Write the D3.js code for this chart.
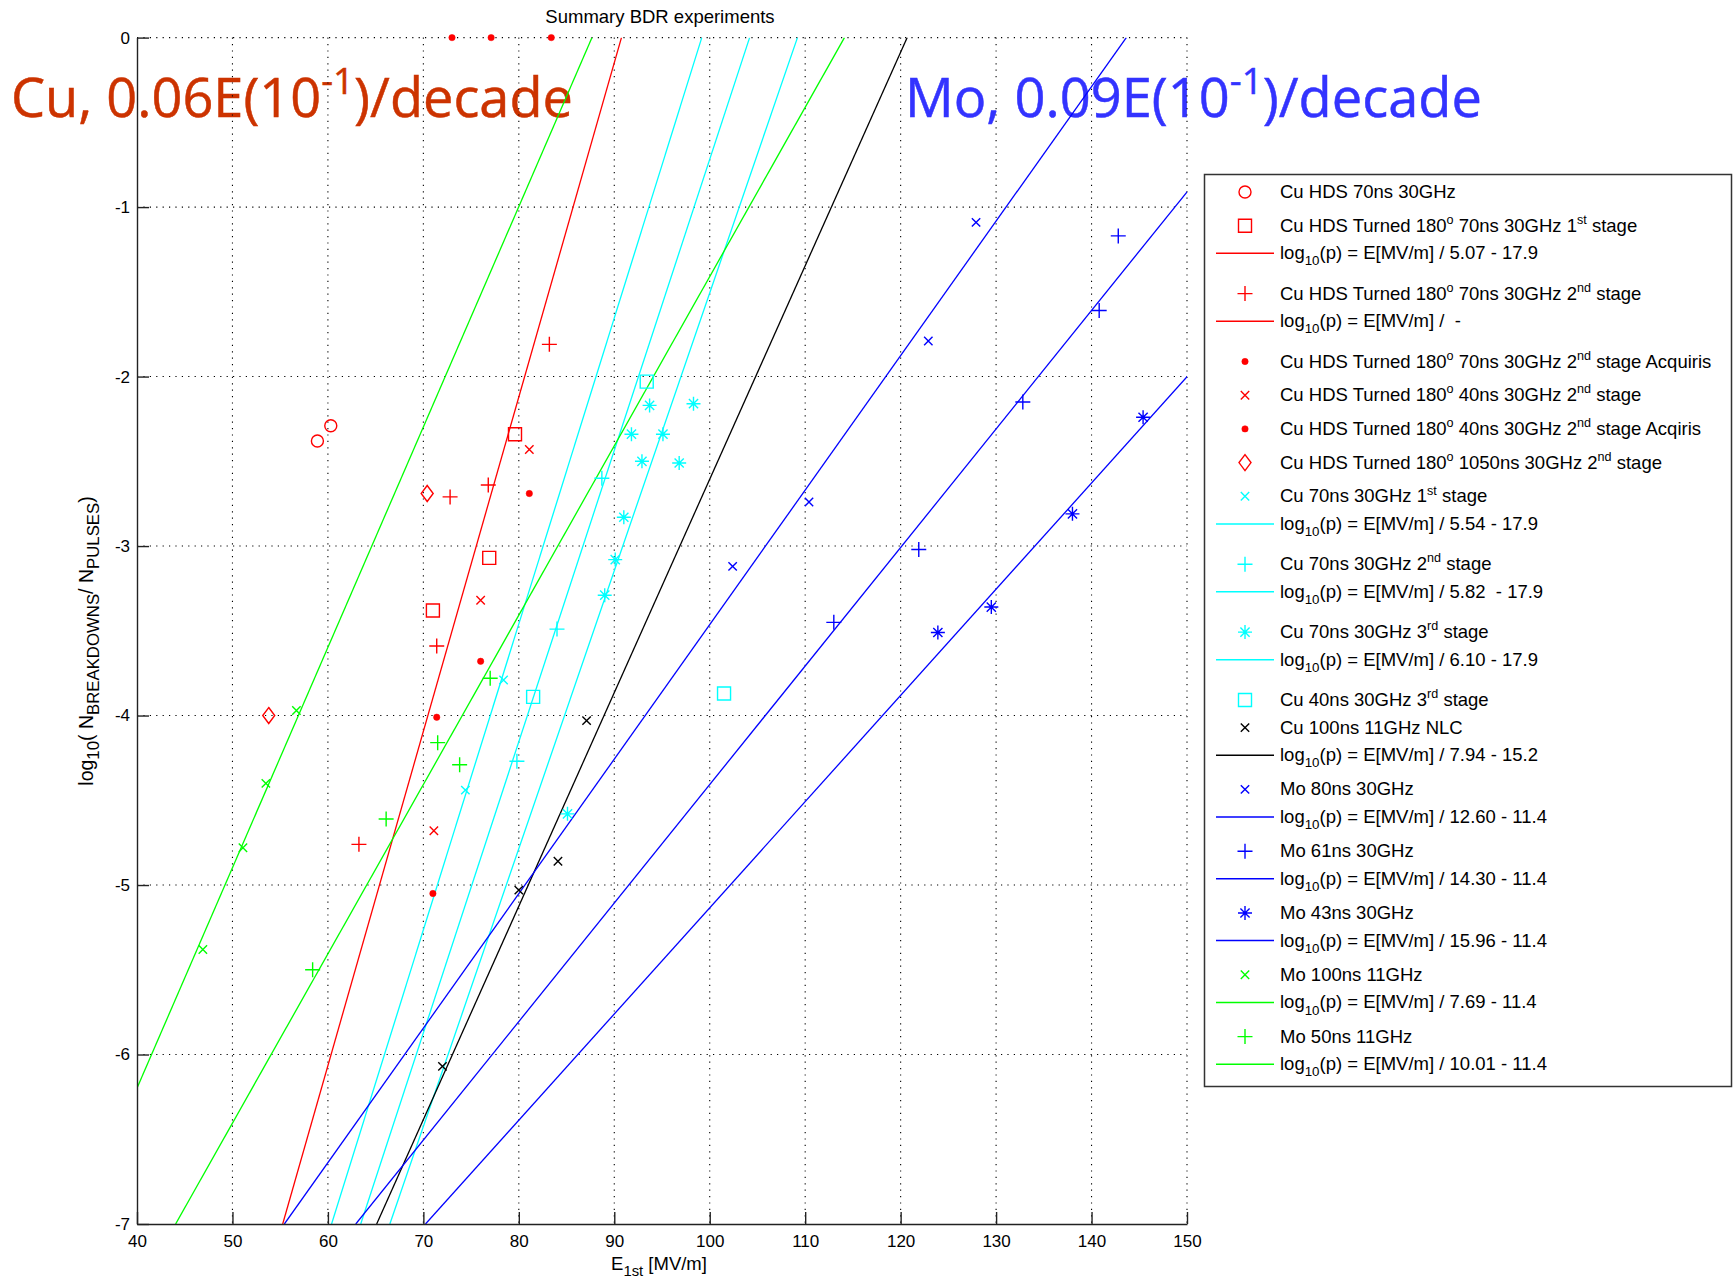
<!DOCTYPE html>
<meta charset="utf-8">

<!-- Load d3.js -->
<script src="https://d3js.org/d3.v7.min.js"></script>
<html>
<head>
  <title>Summary BDR experiments</title>
  <style>
    body { margin: 0; background: #fff; }
    svg text { font-family: "Liberation Sans", Arial, Helvetica, sans-serif; fill: #000; }
  </style>
</head>
<body>
  <div id="my_dataviz"></div>

<script>

// ---- data: [E_1st in MV/m, log10(N_BD/N_pulses)] ----
var cuHds70        = [[58.9,-2.38],[60.3,-2.29]];
var cuTurned70st1  = [[79.6,-2.34],[76.9,-3.07],[71.0,-3.38]];
var cuTurned70st2  = [[83.2,-1.81],[76.8,-2.64],[72.8,-2.71],[71.4,-3.59],[63.25,-4.76]];
var cuTurned70acq  = [[73.0,0],[77.1,0],[83.4,0],[81.1,-2.69]];
var cuTurned40st2  = [[81.1,-2.43],[76.0,-3.32],[71.1,-4.68]];
var cuTurned40acq  = [[76.0,-3.68],[71.4,-4.01],[71.0,-5.05]];
var cuTurned1050   = [[70.4,-2.69],[53.8,-4.0]];
var cu70st1        = [[78.4,-3.79],[74.4,-4.44]];
var cu70st2        = [[88.7,-2.60],[84.0,-3.49],[79.8,-4.27]];
var cu70st3        = [[93.7,-2.17],[98.3,-2.16],[91.8,-2.34],[95.1,-2.34],[92.9,-2.50],[96.8,-2.51],
                      [91.0,-2.83],[90.1,-3.08],[89.0,-3.29],[85.1,-4.58]];
var cu40st3        = [[93.4,-2.03],[81.5,-3.89],[101.5,-3.87]];
var cuNlc          = [[87.1,-4.03],[84.1,-4.86],[80.0,-5.03],[72.0,-6.07]];
var mo80           = [[127.9,-1.09],[122.9,-1.79],[110.4,-2.74],[102.4,-3.12]];
var mo61           = [[142.8,-1.17],[140.8,-1.61],[132.8,-2.15],[121.9,-3.02],[113.0,-3.45]];
var mo43           = [[145.4,-2.24],[138.0,-2.81],[129.5,-3.36],[123.9,-3.51]];
var mo100          = [[56.7,-3.97],[53.5,-4.40],[51.1,-4.78],[46.9,-5.38]];
var mo50           = [[77.0,-3.78],[71.5,-4.16],[73.8,-4.29],[66.1,-4.61],[58.4,-5.50]];

var seriesPoints = [cuHds70, cuTurned70st1, cuTurned70st2, cuTurned70acq, cuTurned40st2,
  cuTurned40acq, cuTurned1050, cu70st1, cu70st2, cu70st3, cu40st3, cuNlc,
  mo80, mo61, mo43, mo100, mo50];

var seriesLabels = [
  "Cu HDS 70ns 30GHz",
  "Cu HDS Turned 180^{o} 70ns 30GHz 1^{st} stage",
  "Cu HDS Turned 180^{o} 70ns 30GHz 2^{nd} stage",
  "Cu HDS Turned 180^{o} 70ns 30GHz 2^{nd} stage Acquiris",
  "Cu HDS Turned 180^{o} 40ns 30GHz 2^{nd} stage",
  "Cu HDS Turned 180^{o} 40ns 30GHz 2^{nd} stage Acqiris",
  "Cu HDS Turned 180^{o} 1050ns 30GHz 2^{nd} stage",
  "Cu 70ns 30GHz 1^{st} stage",
  "Cu 70ns 30GHz 2^{nd} stage",
  "Cu 70ns 30GHz 3^{rd} stage",
  "Cu 40ns 30GHz 3^{rd} stage",
  "Cu 100ns 11GHz NLC",
  "Mo 80ns 30GHz",
  "Mo 61ns 30GHz",
  "Mo 43ns 30GHz",
  "Mo 100ns 11GHz",
  "Mo 50ns 11GHz"
];

// fits: log10(p) = E / divisor - offset  (null = empty fit in the legend)
var fitSeries   = [1, 2, 7, 8, 9, 11, 12, 13, 14, 15, 16];
var fitDivisors = [5.07, null, 5.54, 5.82, 6.10, 7.94, 12.60, 14.30, 15.96, 7.69, 10.01];
var fitOffsets  = [17.9, null, 17.9, 17.9, 17.9, 15.2, 11.4, 11.4, 11.4, 11.4, 11.4];
var fitLabels = [
  "log_{10}(p) = E[MV/m] / 5.07 - 17.9",
  "log_{10}(p) = E[MV/m] /  -",
  "log_{10}(p) = E[MV/m] / 5.54 - 17.9",
  "log_{10}(p) = E[MV/m] / 5.82  - 17.9",
  "log_{10}(p) = E[MV/m] / 6.10 - 17.9",
  "log_{10}(p) = E[MV/m] / 7.94 - 15.2",
  "log_{10}(p) = E[MV/m] / 12.60 - 11.4",
  "log_{10}(p) = E[MV/m] / 14.30 - 11.4",
  "log_{10}(p) = E[MV/m] / 15.96 - 11.4",
  "log_{10}(p) = E[MV/m] / 7.69 - 11.4",
  "log_{10}(p) = E[MV/m] / 10.01 - 11.4"
];

var xTicks = [40,50,60,70,80,90,100,110,120,130,140,150];
var yTicks = [0,-1,-2,-3,-4,-5,-6,-7];

var titleText = "Summary BDR experiments";
var cuNote = "Cu, 0.06E(10^{-1})/decade";
var moNote = "Mo, 0.09E(10^{-1})/decade";

// ---- styles ----
var RED = "#ff0000", CYAN = "#00ffff", BLUE = "#0000ff", GREEN = "#00ff00", BLACK = "#000000";
var seriesColor = [RED,RED,RED,RED,RED,RED,RED,CYAN,CYAN,CYAN,CYAN,BLACK,BLUE,BLUE,BLUE,GREEN,GREEN];
var seriesSym   = ["o","s","+",".","x",".","d","x","+","*","s","x","x","+","*","x","+"];

// set the dimensions and margins of the graph
var W = 1734, H = 1280;
var margin = {top: 37.6, left: 137},
    width = 1050,
    height = 1186.4;

var svg0 = d3.select("#my_dataviz")
  .append("svg")
    .attr("width", W)
    .attr("height", H);

svg0.append("rect").attr("width", W).attr("height", H).attr("fill", "#fff");

// superscript / subscript text helper
function richText(sel, str, size, subScale) {
  var sc = subScale || 0.72;
  var parts = str.match(/\^\{[^}]*\}|_\{[^}]*\}|[^\^_]+/g);
  var cur = 0;
  parts.forEach(function(p) {
    var shift = 0, fs = size, t = p;
    if (p[0] === "^") { shift = -0.42 * size; fs = 0.68 * size; t = p.slice(2, -1); }
    else if (p[0] === "_") { shift = 0.33 * size; fs = sc * size; t = p.slice(2, -1); }
    sel.append("tspan")
      .attr("dy", shift - cur)
      .style("font-size", fs + "px")
      .text(t);
    cur = shift;
  });
  sel.attr("xml:space", "preserve").style("white-space", "pre");
  return sel;
}

// big annotations (behind the plot, like pasted in)
function note(str, color, x0, baseline, targetW) {
  var t = svg0.append("text")
    .attr("x", 0).attr("y", 0)
    .style("font-family", "'Comic Sans MS', 'Open Sans', sans-serif")
    .style("fill", color)
    .style("stroke", color)
    .style("stroke-width", 0.5);
  richText(t, str, 54);
  t.selectAll("tspan").style("fill", color);
  var bw = t.node().getBBox().width;
  t.attr("transform", "translate(" + x0 + "," + baseline + ") scale(" + (targetW / bw) + ",1)");
}
note(cuNote, "#cc3300", 11, 117, 562);
note(moNote, "#3333ff", 905, 117, 577);

var svg = svg0.append("g")
  .attr("transform", "translate(" + margin.left + "," + margin.top + ")");

var x = d3.scaleLinear().domain([40, 150]).range([0, width]);
var y = d3.scaleLinear().domain([-7, 0]).range([height, 0]);

svg.append("clipPath").attr("id", "plotclip")
  .append("rect").attr("width", width).attr("height", height);

// dotted grid
var grid = svg.append("g")
  .attr("stroke", "#000")
  .attr("stroke-width", 1.1)
  .attr("stroke-dasharray", "1.2,5.2");
grid.selectAll(".gx").data(xTicks.filter(function(d){ return d !== 40; }))
  .enter().append("line")
    .attr("x1", function(d){ return x(d); }).attr("x2", function(d){ return x(d); })
    .attr("y1", 0).attr("y2", height);
grid.selectAll(".gy").data(yTicks.filter(function(d){ return d !== -7; }))
  .enter().append("line")
    .attr("y1", function(d){ return y(d); }).attr("y2", function(d){ return y(d); })
    .attr("x1", 0).attr("x2", width);

// fit lines
var fits = fitDivisors.map(function(dv, i) {
  return {div: dv, off: fitOffsets[i], color: seriesColor[fitSeries[i]]};
}).filter(function(f){ return f.div !== null; });

svg.append("g").attr("clip-path", "url(#plotclip)")
  .selectAll("line").data(fits).enter().append("line")
    .attr("x1", function(f){ return x(f.div * (-7 + f.off)); })
    .attr("y1", y(-7))
    .attr("x2", function(f){ return x(f.div * (0 + f.off)); })
    .attr("y2", y(0))
    .attr("stroke", function(f){ return f.color; })
    .attr("stroke-width", 1.3);

// markers
function markerPath(sym) {
  switch (sym) {
    case "o": return "M-6,0a6,6 0 1,0 12,0a6,6 0 1,0 -12,0";
    case "s": return "M-6.5,-6.5H6.5V6.5H-6.5Z";
    case "d": return "M0,-8L6,0L0,8L-6,0Z";
    case "+": return "M-7.5,0H7.5M0,-7.5V7.5";
    case "x": return "M-4.2,-4.2L4.2,4.2M-4.2,4.2L4.2,-4.2";
    case "*": return "M-7,0H7M0,-7V7M-4.6,-4.6L4.6,4.6M-4.6,4.6L4.6,-4.6";
    case ".": return "M-3.2,0a3.2,3.2 0 1,0 6.4,0a3.2,3.2 0 1,0 -6.4,0";
  }
}
function drawMarker(g, sym, color) {
  g.append("path")
    .attr("d", markerPath(sym))
    .attr("fill", sym === "." ? color : "none")
    .attr("stroke", color)
    .attr("stroke-width", sym === "." ? 0.5 : 1.4);
}

seriesPoints.forEach(function(pts, i) {
  svg.append("g").selectAll("g").data(pts).enter().append("g")
    .attr("transform", function(d){ return "translate(" + x(d[0]) + "," + y(d[1]) + ")"; })
    .each(function() { drawMarker(d3.select(this), seriesSym[i], seriesColor[i]); });
});

// axes: ticks inside, left and bottom only
var yAxis = svg.append("g")
  .style("font-size", "17px")
  .call(d3.axisLeft(y).tickValues(yTicks).tickSize(-12).tickSizeOuter(0)
        .tickPadding(7).tickFormat(function(d){ return String(d); }));
var xAxis = svg.append("g")
  .attr("transform", "translate(0," + height + ")")
  .style("font-size", "17px")
  .call(d3.axisBottom(x).tickValues(xTicks).tickSize(-12).tickSizeOuter(0)
        .tickPadding(11).tickFormat(function(d){ return String(d); }));
[yAxis, xAxis].forEach(function(a) {
  a.attr("font-family", null);
  a.selectAll("path, line").attr("stroke", "#222").attr("stroke-width", 1.4);
  a.selectAll("text").attr("fill", "#000");
});

// title and axis labels
svg0.append("text")
  .attr("x", 660).attr("y", 23)
  .attr("text-anchor", "middle")
  .style("font-size", "18.5px")
  .text(titleText);

richText(svg0.append("text")
  .attr("text-anchor", "middle")
  .attr("transform", "translate(659,1270)"), "E_{1st} [MV/m]", 18.5, 0.8);

richText(svg0.append("text")
  .attr("text-anchor", "middle")
  .attr("transform", "translate(93,641) rotate(-90)"),
  "log_{10}( N_{BREAKDOWNS}/ N_{PULSES})", 19.5, 0.86);

// legend
var legendRows = [];
seriesLabels.forEach(function(lab, i) {
  legendRows.push({kind: "marker", label: lab, color: seriesColor[i], sym: seriesSym[i]});
  fitSeries.forEach(function(s, k) {
    if (s === i) legendRows.push({kind: "line", label: fitLabels[k], color: seriesColor[i]});
  });
});

var legend = svg0.append("g");
legend.append("rect")
  .attr("x", 1204.5).attr("y", 174.5)
  .attr("width", 527).attr("height", 912)
  .attr("fill", "#fff")
  .attr("stroke", "#333")
  .attr("stroke-width", 1.5);

var rowY = 192, prevSub = false;
legendRows.forEach(function(r, i) {
  var sup = /\^\{/.test(r.label), sub = /_\{/.test(r.label);
  if (i > 0) rowY += 27.6 + (prevSub ? 6.6 : 0) + (sup ? 6.1 : 0);
  prevSub = sub;
  if (r.kind === "marker") {
    drawMarker(legend.append("g").attr("transform", "translate(1245," + rowY + ")"), r.sym, r.color);
  } else {
    legend.append("line")
      .attr("x1", 1216).attr("x2", 1274)
      .attr("y1", rowY).attr("y2", rowY)
      .attr("stroke", r.color).attr("stroke-width", 1.5);
  }
  richText(legend.append("text")
    .attr("x", 1280).attr("y", rowY + 6), r.label, 18.5);
});

</script>
</body>
</html>
